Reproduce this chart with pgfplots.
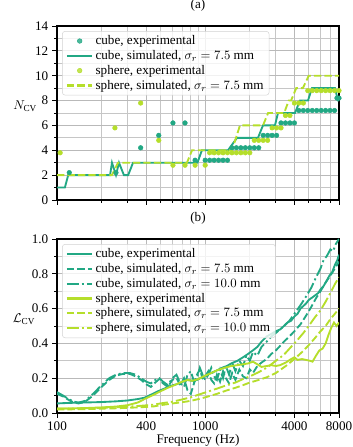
\documentclass[border=0pt]{standalone}
\usepackage{fontspec}
\setmainfont{Liberation Serif}
\usepackage{pgfplots}
\pgfplotsset{compat=1.18}
\definecolor{cc}{HTML}{22A884}
\definecolor{sc}{HTML}{B5DE2B}
\newcommand{\fs}{\fontsize{11.3}{13.6}\selectfont}
\tikzset{
  mylin/.style={line width=1.6pt},
  mydsh/.style={line width=1.6pt, dash pattern=on 6.3pt off 2.7pt},
  mydd/.style={line width=1.6pt, dash pattern=on 10pt off 2.7pt on 1.7pt off 2.7pt},
}
\begin{document}
\begin{tikzpicture}
\useasboundingbox (-49.02pt,-29.24pt) rectangle (253.7pt,355.18pt);
% ---------------- bottom (b)
\begin{semilogxaxis}[
  scale only axis, width=242.52pt, height=149.64pt,
  xmin=100, xmax=8000,
  xtick={100,400,1000,4000,8000},
  minor xtick={200,300,500,600,700,800,900,2000,3000,5000,6000,7000},
  grid=both,
  major grid style={gray!55, line width=0.75pt},
  minor grid style={gray!45, line width=0.7pt},
  tick align=outside, tick pos=left,
  major tick length=4pt, minor tick length=2.3pt,
  every tick/.style={black, line width=0.8pt},
  axis line style={line width=0.9pt},
  tick label style={font=\fs},
  legend cell align=left,
  legend style={at={(0.018,0.971)}, anchor=north west, draw=gray!35,
    rounded corners=2.5pt, fill=white, fill opacity=0.8, text opacity=1,
    font=\fs, inner xsep=3pt, inner ysep=2pt, row sep=0pt, nodes={inner sep=1.7pt}},
  legend image code/.code={\draw[mark repeat=2,mark phase=2,#1,line width=1.9pt,mark options={line width=0.4pt}] plot coordinates {(0pt,0pt) (11pt,0pt) (22pt,0pt)};},
  title style={at={(0.5,1)}, anchor=base, yshift=8.7pt, font=\fs},
  at={(0pt,0pt)}, anchor=south west,
  ymin=0, ymax=1,
  ytick={0,0.2,0.4,0.6,0.8,1.0}, yticklabels={0.0,0.2,0.4,0.6,0.8,1.0},
  minor ytick={0.1,0.3,0.5,0.7,0.9},
  xticklabels={100,400,1000,4000,8000},
  title={(b)},
  xlabel={Frequency (Hz)},
  xlabel style={at={(axis description cs:0.5,0)}, anchor=base, yshift=-26.5pt, font=\fs},
  ylabel={$\mathcal{L}_{\mathrm{CV}}$},
  every axis y label/.style={at={(axis description cs:-0.117,0.54)}, anchor=center, font=\fs},
]
\addplot[cc, mylin] coordinates {(100,0.055)(120,0.058)(150,0.06)(200,0.063)(250,0.067)(300,0.072)(350,0.08)(390,0.088)(430,0.105)(480,0.125)(530,0.14)(580,0.155)(640,0.165)(700,0.178)(760,0.19)(820,0.185)(880,0.19)(950,0.205)(1000,0.215)(1100,0.23)(1200,0.245)(1300,0.26)(1400,0.27)(1500,0.285)(1650,0.3)(1800,0.32)(1950,0.34)(2100,0.36)(2250,0.38)(2400,0.41)(2600,0.44)(2800,0.455)(3000,0.47)(3200,0.48)(3400,0.5)(3600,0.52)(3800,0.53)(4000,0.555)(4200,0.57)(4400,0.6)(4600,0.615)(4800,0.63)(5000,0.65)(5200,0.66)(5400,0.67)(5600,0.68)(5800,0.69)(6000,0.71)(6300,0.73)(6600,0.76)(6900,0.79)(7200,0.81)(7500,0.85)(7800,0.88)(8000,0.91)};
\addlegendentry{cube, experimental}
\addplot[cc, mydsh] coordinates {(100,0.11)(110,0.095)(120,0.075)(130,0.06)(140,0.055)(155,0.065)(175,0.1)(200,0.15)(225,0.19)(250,0.215)(280,0.225)(310,0.225)(340,0.21)(370,0.19)(400,0.165)(430,0.15)(460,0.175)(490,0.195)(520,0.17)(560,0.15)(600,0.19)(640,0.2)(680,0.16)(720,0.2)(760,0.13)(800,0.11)(840,0.17)(880,0.22)(920,0.25)(960,0.2)(1000,0.21)(1050,0.24)(1100,0.19)(1150,0.17)(1200,0.22)(1260,0.18)(1320,0.24)(1380,0.2)(1450,0.17)(1520,0.23)(1600,0.19)(1700,0.25)(1800,0.21)(1900,0.2)(2000,0.25)(2100,0.23)(2250,0.27)(2400,0.29)(2600,0.31)(2800,0.34)(3000,0.36)(3200,0.385)(3400,0.41)(3700,0.44)(4000,0.47)(4400,0.51)(4800,0.56)(5200,0.61)(5600,0.66)(6000,0.7)(6500,0.75)(7000,0.79)(7500,0.83)(8000,0.87)};
\addlegendentry{cube, simulated, $\sigma_r = 7.5$ mm}
\addplot[cc, mydd] coordinates {(100,0.12)(110,0.1)(120,0.08)(130,0.065)(140,0.06)(155,0.07)(175,0.11)(200,0.16)(225,0.2)(250,0.22)(280,0.23)(310,0.23)(340,0.22)(370,0.2)(400,0.18)(430,0.17)(460,0.19)(490,0.2)(520,0.18)(560,0.16)(600,0.2)(640,0.22)(680,0.17)(720,0.15)(760,0.22)(800,0.24)(840,0.18)(880,0.2)(920,0.26)(960,0.22)(1000,0.19)(1050,0.22)(1100,0.26)(1150,0.21)(1200,0.19)(1260,0.25)(1320,0.2)(1380,0.27)(1450,0.22)(1520,0.29)(1600,0.24)(1700,0.3)(1800,0.27)(1900,0.33)(2000,0.3)(2100,0.35)(2250,0.33)(2400,0.38)(2600,0.41)(2800,0.44)(3000,0.46)(3200,0.48)(3400,0.5)(3700,0.53)(4000,0.57)(4400,0.62)(4800,0.67)(5200,0.72)(5600,0.78)(6000,0.83)(6300,0.88)(6600,0.9)(7000,0.94)(7300,0.93)(7600,0.97)(8000,1.0)};
\addlegendentry{cube, simulated, $\sigma_r = 10.0$ mm}
\addplot[sc, mylin] coordinates {(100,0.025)(150,0.028)(200,0.032)(250,0.037)(300,0.045)(350,0.06)(400,0.085)(450,0.105)(500,0.125)(560,0.145)(620,0.16)(700,0.18)(760,0.19)(820,0.185)(900,0.195)(1000,0.215)(1100,0.23)(1200,0.245)(1350,0.26)(1500,0.27)(1650,0.275)(1800,0.28)(1950,0.285)(2100,0.295)(2250,0.28)(2400,0.265)(2600,0.27)(2800,0.275)(3000,0.27)(3200,0.275)(3500,0.29)(3800,0.31)(4000,0.32)(4200,0.305)(4500,0.31)(4800,0.305)(5100,0.3)(5300,0.295)(5600,0.33)(5900,0.36)(6200,0.37)(6500,0.4)(6800,0.45)(7100,0.49)(7400,0.52)(7700,0.5)(8000,0.52)};
\addlegendentry{sphere, experimental}
\addplot[sc, mydsh] coordinates {(100,0.02)(150,0.022)(200,0.025)(250,0.027)(300,0.03)(350,0.032)(400,0.035)(450,0.038)(500,0.045)(550,0.05)(600,0.055)(700,0.062)(800,0.07)(900,0.08)(1000,0.09)(1200,0.11)(1400,0.13)(1600,0.145)(1800,0.16)(2000,0.175)(2300,0.19)(2600,0.205)(3000,0.23)(3500,0.27)(4000,0.31)(4500,0.35)(5000,0.39)(5500,0.43)(6000,0.47)(6500,0.5)(7000,0.54)(7500,0.57)(8000,0.6)};
\addlegendentry{sphere, simulated, $\sigma_r = 7.5$ mm}
\addplot[sc, mydd] coordinates {(100,0.025)(150,0.027)(200,0.03)(250,0.033)(300,0.036)(350,0.04)(400,0.044)(450,0.048)(500,0.055)(600,0.065)(700,0.078)(800,0.09)(900,0.105)(1000,0.118)(1200,0.14)(1400,0.16)(1600,0.175)(1800,0.195)(2000,0.21)(2300,0.235)(2600,0.26)(3000,0.3)(3400,0.335)(3800,0.38)(4200,0.42)(4600,0.46)(5000,0.5)(5500,0.55)(6000,0.59)(6500,0.64)(7000,0.69)(7500,0.74)(8000,0.78)};
\addlegendentry{sphere, simulated, $\sigma_r = 10.0$ mm}
\end{semilogxaxis}
% ---------------- top (a)
\begin{semilogxaxis}[
  scale only axis, width=242.52pt, height=149.64pt,
  xmin=100, xmax=8000,
  xtick={100,400,1000,4000,8000},
  minor xtick={200,300,500,600,700,800,900,2000,3000,5000,6000,7000},
  grid=both,
  major grid style={gray!55, line width=0.75pt},
  minor grid style={gray!45, line width=0.7pt},
  tick align=outside, tick pos=left,
  major tick length=4pt, minor tick length=2.3pt,
  every tick/.style={black, line width=0.8pt},
  axis line style={line width=0.9pt},
  tick label style={font=\fs},
  legend cell align=left,
  legend style={at={(0.018,0.971)}, anchor=north west, draw=gray!35,
    rounded corners=2.5pt, fill=white, fill opacity=0.8, text opacity=1,
    font=\fs, inner xsep=3pt, inner ysep=2pt, row sep=0pt, nodes={inner sep=1.7pt}},
  legend image code/.code={\draw[mark repeat=2,mark phase=2,#1,line width=1.9pt,mark options={line width=0.4pt}] plot coordinates {(0pt,0pt) (11pt,0pt) (22pt,0pt)};},
  title style={at={(0.5,1)}, anchor=base, yshift=8.7pt, font=\fs},
  at={(0pt,183.18pt)}, anchor=south west,
  ymin=0, ymax=14,
  ytick={0,2,4,6,8,10,12,14}, yticklabels={0,2,4,6,8,10,12,14},
  minor ytick={1,3,5,7,9,11,13},
  xticklabels={,,,,},
  title={(a)},
  ylabel={$N_{\mathrm{CV}}$},
  every axis y label/.style={at={(axis description cs:-0.113,0.54)}, anchor=center, font=\fs},
]
\addplot[cc, only marks, mark=*, mark size=2pt] coordinates {(121,2.2)(250,2.2)(367,4.2)(486,5.2)(606,6.2)(731,6.2)(855,3.2)
(1000,3.2)(1072,3.2)(1149,3.2)(1231,3.2)(1320,3.2)(1414,3.2)
(1516,4.2)(1625,4.2)(1741,4.2)(1866,4.2)(2000,4.2)(2144,4.2)(2297,4.2)
(2462,5.2)(2639,5.2)(2828,5.2)(3031,5.2)
(3249,6.2)(3482,6.2)(3732,6.2)(4000,6.2)
(4287,7.2)(4595,7.2)(4925,7.2)(5278,7.2)(5657,7.2)(6063,7.2)(6498,7.2)(6964,7.2)(7464,7.2)
(7750,8.2)(8000,8.2)};
\addlegendentry{cube, experimental}
\addplot[cc, mylin] coordinates {(100,1)(113,1)(119,2)(228,2)(235,3)(250,2)(262,3)(283,2)(302,2)(326,3)(887,3)(950,4)(1425,4)(1640,5)(2271,5)(2455,6)(2958,6)(3100,7)(4035,7)(4364,8)(4940,8)(5258,9)(7516,9)(7870,8)(8000,8)};
\addlegendentry{cube, simulated, $\sigma_r = 7.5$ mm}
\addplot[sc, only marks, mark=*, mark size=2pt] coordinates {(105,3.8)(246,5.8)(367,7.8)(486,4.8)(606,2.8)(731,2.8)(855,2.8)
(1000,2.8)(1072,3.8)(1149,3.8)(1231,3.8)(1320,3.8)(1414,3.8)(1516,3.8)(1625,3.8)(1741,3.8)(1866,3.8)(2000,3.8)
(2144,4.8)(2297,4.8)(2462,4.8)(2639,4.8)
(2828,5.8)(3031,5.8)(3249,5.8)
(3482,6.8)(3732,6.8)
(4000,7.8)(4287,7.8)(4595,7.8)
(4925,8.8)(5278,8.8)(5657,8.8)(6063,8.8)(6498,8.8)(6964,8.8)(7464,8.8)(8000,8.8)};
\addlegendentry{sphere, experimental}
\addplot[sc, mydsh] coordinates {(100,2)(235,2)(258,3)(754,3)(815,4)(1517,4)(1717,6)(2455,6)(2659,7)(3412,7)(3664,8)(3800,8)(4115,9)(4560,9)(5000,10)(8000,10)};
\addlegendentry{sphere, simulated, $\sigma_r = 7.5$ mm}
\end{semilogxaxis}
\end{tikzpicture}
\end{document}
